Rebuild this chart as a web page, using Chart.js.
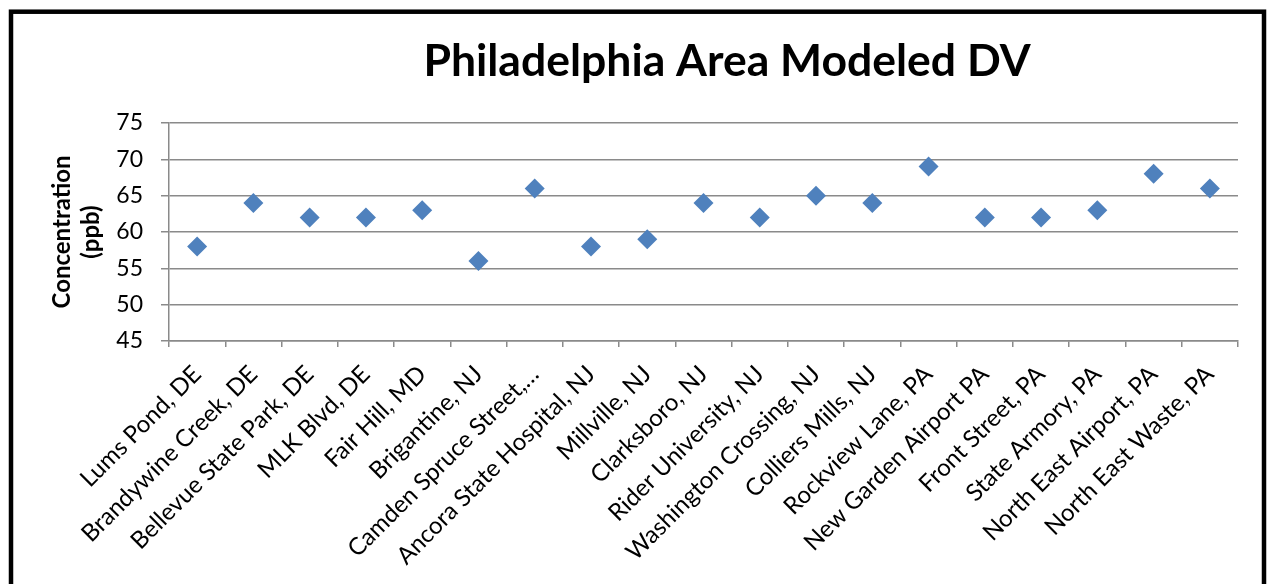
<!DOCTYPE html>
<html>
<head>
<meta charset="utf-8">
<script src="https://cdn.jsdelivr.net/npm/chart.js@4/dist/chart.umd.min.js"></script>
<style>
  html, body { margin: 0; padding: 0; background: #ffffff; }
  #wrap { position: relative; width: 1267px; height: 584px; }
</style>
</head>
<body>
<div id="wrap"><canvas id="dvChart" width="1267" height="584"></canvas></div>
<script>
// Modeled design values (ppb) at monitor sites around Philadelphia
const chartTitle = 'Philadelphia Area Modeled DV';
const yAxisTitle = ['Concentration', '(ppb)'];
const sites = [
  'Lums Pond, DE',
  'Brandywine Creek, DE',
  'Bellevue State Park, DE',
  'MLK Blvd, DE',
  'Fair Hill, MD',
  'Brigantine, NJ',
  'Camden Spruce Street,\u2026',
  'Ancora State Hospital, NJ',
  'Millville, NJ',
  'Clarksboro, NJ',
  'Rider University, NJ',
  'Washington Crossing, NJ',
  'Colliers Mills, NJ',
  'Rockview Lane, PA',
  'New Garden Airport PA',
  'Front Street, PA',
  'State Armory, PA',
  'North East Airport, PA',
  'North East Waste, PA'
];
const concentration = [58, 64, 62, 62, 63, 56, 66, 58, 59, 64, 62, 65, 64, 69, 62, 62, 63, 68, 66];
const yMin = 45;
const yMax = 75;
const yStep = 5;

const FONT = 'Lato, "Open Sans", sans-serif';
const GRID = '#8a8a8a';

// Outer chart frame and centred heading
const framePlugin = {
  id: 'frameAndHeading',
  afterDraw(chart) {
    const ctx = chart.ctx;
    ctx.save();
    ctx.strokeStyle = '#000000';
    ctx.lineWidth = 4.5;
    ctx.strokeRect(11, 11.7, 1253, 700);
    ctx.fillStyle = '#000000';
    ctx.font = 'bold 44.5px ' + FONT;
    ctx.textAlign = 'center';
    ctx.textBaseline = 'middle';
    ctx.fillText(chartTitle, 727, 62);
    ctx.restore();
  }
};

new Chart(document.getElementById('dvChart'), {
  type: 'line',
  data: {
    labels: sites,
    datasets: [{
      data: concentration,
      showLine: false,
      pointStyle: 'rectRot',
      pointRadius: 10,
      pointHoverRadius: 10,
      pointBackgroundColor: '#4F81BD',
      pointBorderColor: '#4F81BD',
      pointBorderWidth: 0
    }]
  },
  options: {
    responsive: false,
    animation: false,
    devicePixelRatio: 1,
    layout: { padding: { top: 123, right: 29, bottom: 0, left: 0 } },
    plugins: {
      legend: { display: false },
      tooltip: { enabled: false },
      title: { display: false }
    },
    scales: {
      x: {
        type: 'category',
        offset: true,
        grid: {
          offset: true,
          drawOnChartArea: false,
          drawTicks: true,
          tickLength: 6,
          color: GRID,
          lineWidth: 1.5
        },
        border: { display: true, color: GRID, width: 1.5 },
        ticks: {
          autoSkip: false,
          maxRotation: 45,
          minRotation: 45,
          padding: 13,
          color: '#000000',
          font: { family: FONT, size: 24 }
        },
        afterFit(scale) { scale.height = 243; }
      },
      y: {
        min: yMin,
        max: yMax,
        grid: {
          drawTicks: true,
          tickLength: 8,
          color: GRID,
          lineWidth: 1.5
        },
        border: { display: true, color: GRID, width: 1.5 },
        ticks: {
          stepSize: yStep,
          padding: 18,
          color: '#000000',
          font: { family: FONT, size: 23 }
        },
        title: {
          display: true,
          text: yAxisTitle,
          color: '#000000',
          font: { family: FONT, size: 24, weight: 'bold', lineHeight: 1.2 },
          padding: { top: 48, bottom: 0 }
        },
        afterFit(scale) { scale.width = 169; }
      }
    }
  },
  plugins: [framePlugin]
});
</script>
</body>
</html>
